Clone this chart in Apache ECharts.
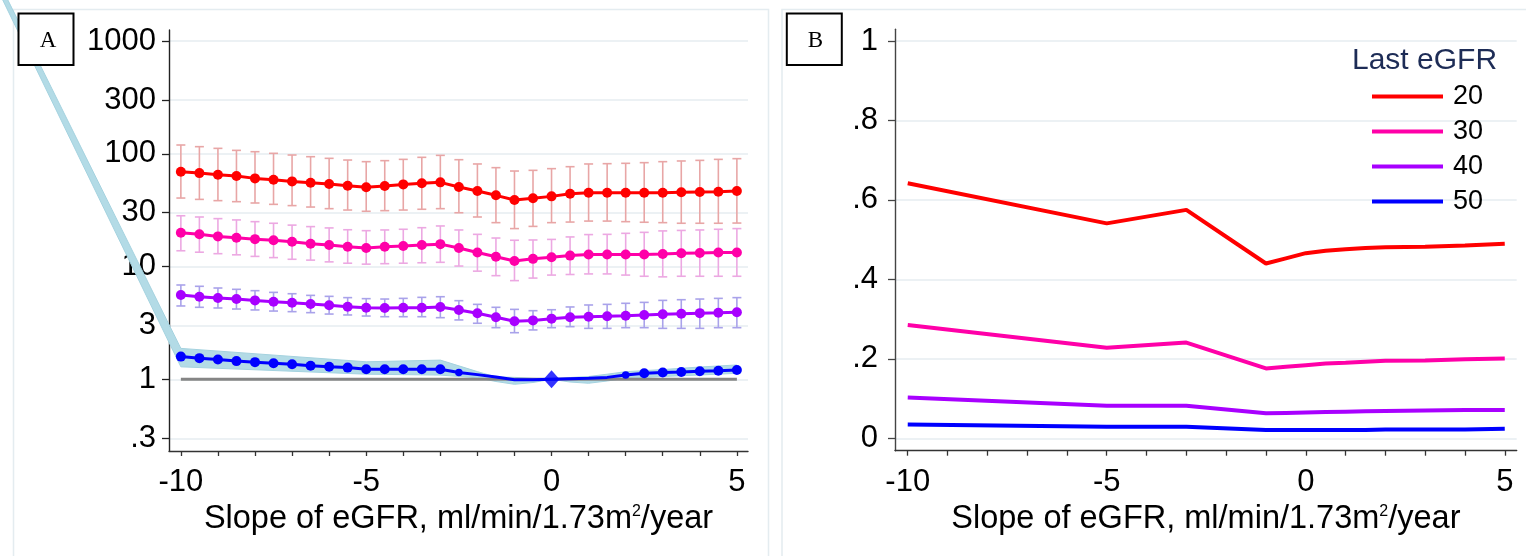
<!DOCTYPE html>
<html><head><meta charset="utf-8">
<script src="https://cdn.jsdelivr.net/npm/echarts@6/dist/echarts.min.js"></script>
<style>html,body{margin:0;padding:0;background:#fff}#c{width:1526px;height:556px}</style>
</head><body><div id="c"></div>
<script>
// ---------- Panel A data ----------
const slopesA = [-10,-9.5,-9,-8.5,-8,-7.5,-7,-6.5,-6,-5.5,-5,-4.5,-4,-3.5,-3,-2.5,-2,-1.5,-1,-0.5,0,0.5,1,1.5,2,2.5,3,3.5,4,4.5,5];
const rrA20 = [69.2,67.4,65.1,63.4,60.5,58.9,56.9,55.3,53.9,52.1,50.4,51.7,53.5,54.7,55.8,50.7,46.7,42.8,38.9,40.3,41.9,44.2,45.1,45.1,45.1,45.1,45.1,45.5,45.8,46.0,46.7];
const loA20 = [40.5,39.4,38.4,37.6,36.6,35.6,34.7,33.7,32.6,31.7,30.9,31.3,31.7,32.2,32.6,30.0,27.5,24.5,21.7,22.7,24.5,24.8,25.3,25.3,25.0,24.7,24.5,24.2,24.2,24.2,24.3];
const hiA20 = [119.6,115.6,111.7,107.2,104.3,100.9,97.5,94.2,91.1,88.0,85.1,86.9,89.2,93.0,96.8,88.6,81.2,75.3,70.3,71.3,73.8,76.8,81.2,81.7,82.3,83.4,85.1,86.3,87.4,89.2,90.5];
const rrA30 = [19.9,19.3,18.5,18.0,17.5,17.1,16.6,15.9,15.5,15.0,14.6,15.0,15.2,15.5,15.8,14.6,13.3,12.2,11.2,11.7,12.1,12.5,12.8,12.8,12.8,12.8,12.9,13.1,13.2,13.3,13.3];
const loA30 = [13.8,13.4,13.0,12.7,12.3,12.0,11.6,11.4,11.0,10.7,10.5,10.6,10.7,10.8,10.9,10.1,9.1,8.3,7.5,7.9,8.4,8.5,8.6,8.6,8.4,8.2,8.1,8.2,8.2,8.2,8.2];
const hiA30 = [28.2,27.5,26.6,25.9,25.0,24.2,23.3,22.6,22.0,21.2,20.8,21.1,21.4,22.1,22.9,21.1,19.3,17.9,17.1,17.2,17.4,18.3,19.2,19.3,19.7,20.1,20.7,20.9,21.1,21.4,21.7];
const rrA40 = [5.59,5.40,5.26,5.15,5.01,4.88,4.78,4.65,4.53,4.40,4.31,4.29,4.31,4.31,4.38,4.12,3.85,3.55,3.27,3.33,3.45,3.55,3.59,3.62,3.66,3.72,3.78,3.82,3.86,3.89,3.93];
const loA40 = [4.47,4.35,4.29,4.20,4.12,4.03,3.98,3.90,3.79,3.72,3.64,3.59,3.59,3.59,3.52,3.36,3.14,2.87,2.59,2.74,2.87,2.93,2.83,2.83,2.87,2.87,2.83,2.83,2.83,2.87,2.87];
const hiA40 = [6.86,6.68,6.45,6.28,6.11,5.90,5.74,5.55,5.44,5.30,5.19,5.15,5.22,5.33,5.40,4.98,4.62,4.35,4.17,4.06,4.14,4.38,4.56,4.62,4.72,4.81,5.01,5.08,5.15,5.22,5.30];
const rrA50 = [1.59,1.54,1.50,1.45,1.42,1.39,1.36,1.32,1.29,1.27,1.23,1.23,1.23,1.23,1.23,1.15,1.10,1.05,0.99,0.99,1.00,1.01,1.02,1.04,1.09,1.13,1.15,1.16,1.18,1.19,1.21];
// confidence band of the 50 curve (computed at spline points)
const bandX  = [-15,-10,-5,-3,-2,-1.5,-1,-0.5,0,0.5,1,1.5,2,3,4,5];
const bandLo = [3130,1.29,1.11,1.09,1.03,0.956,0.903,0.937,1.0,0.946,0.922,0.966,1.02,1.059,1.092,1.13];
const bandHi = [3840,1.88,1.43,1.48,1.17,1.05,1.04,1.02,1.0,1.037,1.058,1.11,1.168,1.22,1.285,1.34];
const refLineX = [-10,5];
const refLineY = [1,1];
const refPoint = [0,1];
const yTicksA = [0.3,1,3,10,30,100,300,1000];

// ---------- Panel B data ----------
const slopesB = [-10,-5,-3,-1,-0.5,0,0.5,1,1.5,2,3,4,5];
const probB20 = [0.642,0.541,0.575,0.440,0.453,0.466,0.472,0.476,0.479,0.481,0.482,0.485,0.490];
const probB30 = [0.285,0.228,0.241,0.176,0.180,0.184,0.188,0.190,0.193,0.195,0.196,0.199,0.201];
const probB40 = [0.103,0.082,0.082,0.063,0.064,0.065,0.066,0.067,0.068,0.069,0.070,0.071,0.071];
const probB50 = [0.035,0.029,0.029,0.021,0.021,0.021,0.021,0.021,0.021,0.022,0.022,0.022,0.024];
const yTicksB = [0,0.2,0.4,0.6,0.8,1];

const xTicks = [-10,-9,-8,-7,-6,-5,-4,-3,-2,-1,0,1,2,3,4,5];
const xLabels = [-10,-5,0,5];
const legendNames = ['20','30','40','50'];

// ---------- styling ----------
const FONT = 'Liberation Sans, Arial, Helvetica, sans-serif';
const C20 = '#ff0000', C30 = '#ff00a8', C40 = '#a800ff', C50 = '#0000ff';
const E20 = '#e8a6a6', E30 = '#eca8e2', E40 = '#a9a2ea';

function pairs(xs, ys) { return xs.map((x, i) => [x, ys[i]]); }
function triples(xs, lo, hi) { return xs.map((x, i) => [x, lo[i], hi[i]]); }
function fmtNum(v) { return String(v).replace(/^0\./, '.').replace(/^-0\./, '-.'); }

function errSeries(name, lo, hi, color) {
  return {
    type: 'custom', name: name, xAxisIndex: 0, yAxisIndex: 0, z: 2,
    data: triples(slopesA, lo, hi),
    encode: { x: 0, y: [1, 2] },
    silent: true,
    renderItem: function (params, api) {
      const x = api.value(0);
      const p1 = api.coord([x, api.value(1)]);
      const p2 = api.coord([x, api.value(2)]);
      const w = 4.5;
      const st = { stroke: color, lineWidth: 1.6 };
      return { type: 'group', children: [
        { type: 'line', shape: { x1: p1[0], y1: p1[1], x2: p2[0], y2: p2[1] }, style: st },
        { type: 'line', shape: { x1: p1[0] - w, y1: p1[1], x2: p1[0] + w, y2: p1[1] }, style: st },
        { type: 'line', shape: { x1: p2[0] - w, y1: p2[1], x2: p2[0] + w, y2: p2[1] }, style: st }
      ]};
    }
  };
}

function lineA(name, ys, color, sizeFn) {
  return {
    type: 'line', name: name, xAxisIndex: 0, yAxisIndex: 0, z: 4,
    data: pairs(slopesA, ys), symbol: 'circle', symbolSize: sizeFn || 10,
    showAllSymbol: true,
    lineStyle: { color: color, width: 3 }, itemStyle: { color: color },
    silent: true, animation: false
  };
}

function lineB(name, ys, color) {
  return {
    type: 'line', name: name, xAxisIndex: 1, yAxisIndex: 1, z: 4,
    data: pairs(slopesB, ys), symbol: 'none',
    lineStyle: { color: color, width: 4 }, itemStyle: { color: color },
    silent: true, animation: false
  };
}

const xName = '{a|Slope of eGFR, ml/min/1.73m}{s|2}{a|/year}';
const xNameStyle = { rich: {
  a: { fontSize: 32.5, fontFamily: FONT, color: '#000', lineHeight: 32 },
  s: { fontSize: 16, fontFamily: FONT, color: '#000', lineHeight: 6, verticalAlign: 'top' }
}};

function xAxisCfg(grid) {
  return {
    type: 'value', gridIndex: grid, min: -10.32, max: 5.3,
    axisLine: { show: true, onZero: false, lineStyle: { color: '#333', width: 1.4 } },
    axisTick: { show: true, length: 5, customValues: xTicks, lineStyle: { color: '#333', width: 1.3 } },
    axisLabel: { show: true, customValues: xLabels, fontSize: 31, fontFamily: FONT, color: '#000', margin: 16, formatter: fmtNum },
    splitLine: { show: false },
    name: xName, nameLocation: 'middle', nameGap: 49, nameTextStyle: xNameStyle
  };
}

const chart = echarts.init(document.getElementById('c'), null, { renderer: 'canvas' });
chart.setOption({
  animation: false,
  backgroundColor: '#ffffff',
  grid: [
    { left: 169, top: 30, width: 579, height: 421 },
    { left: 895, top: 29.3, width: 621.7, height: 421.4 }
  ],
  xAxis: [xAxisCfg(0), xAxisCfg(1)],
  yAxis: [
    {
      type: 'log', logBase: 10, gridIndex: 0, min: 0.2313, max: 1252,
      axisLine: { show: true, onZero: false, lineStyle: { color: '#222', width: 1.4 } },
      axisTick: { show: true, length: 7, customValues: yTicksA, lineStyle: { color: '#222', width: 1.3 } },
      axisLabel: { show: true, customValues: yTicksA, fontSize: 31, fontFamily: FONT, color: '#000', margin: 13, formatter: fmtNum },
      splitLine: { show: true, lineStyle: { color: '#e6edf1', width: 1.5 } }
    },
    {
      type: 'value', gridIndex: 1, min: -0.0312, max: 1.0295,
      axisLine: { show: true, onZero: false, lineStyle: { color: '#444', width: 1.4 } },
      axisTick: { show: true, length: 7, customValues: yTicksB, lineStyle: { color: '#444', width: 1.3 } },
      axisLabel: { show: true, customValues: yTicksB, fontSize: 31, fontFamily: FONT, color: '#000', margin: 17, formatter: fmtNum },
      splitLine: { show: true, lineStyle: { color: '#e6edf1', width: 1.5 } }
    }
  ],
  legend: {
    data: legendNames, orient: 'vertical', left: 1367, top: 78,
    itemWidth: 71, itemHeight: 4, itemGap: 8, icon: 'rect',
    textStyle: { fontSize: 27, fontFamily: FONT, color: '#000', padding: [0, 0, 0, 5] },
    selectedMode: false
  },
  title: {
    text: 'Last eGFR', left: 1352, top: 46, padding: 0,
    textStyle: { fontSize: 30, fontFamily: FONT, color: '#1d2c56', fontWeight: 'normal', lineHeight: 30 }
  },
  graphic: [
    { type: 'rect', z: -10, shape: { x: 13.5, y: 9.5, width: 755, height: 560 }, style: { fill: 'none', stroke: '#e4ecf0', lineWidth: 1.5 }, silent: true },
    { type: 'rect', z: -10, shape: { x: 782, y: 9.5, width: 760, height: 560 }, style: { fill: 'none', stroke: '#e4ecf0', lineWidth: 1.5 }, silent: true },
    { type: 'rect', z: 100, shape: { x: 18.5, y: 13.5, width: 55, height: 51.5 }, style: { fill: '#fff', stroke: '#000', lineWidth: 2 }, silent: true },
    { type: 'text', z: 101, x: 48, y: 41, style: { text: 'A', fontSize: 23, fontFamily: 'Liberation Serif, Times New Roman, serif', fill: '#000', align: 'center', verticalAlign: 'middle' }, silent: true },
    { type: 'rect', z: 100, shape: { x: 786.8, y: 13.5, width: 55, height: 51.5 }, style: { fill: '#fff', stroke: '#000', lineWidth: 2 }, silent: true },
    { type: 'text', z: 101, x: 815.5, y: 41, style: { text: 'B', fontSize: 23, fontFamily: 'Liberation Serif, Times New Roman, serif', fill: '#000', align: 'center', verticalAlign: 'middle' }, silent: true }
  ],
  series: [
    {
      type: 'custom', name: 'band50', xAxisIndex: 0, yAxisIndex: 0, z: 1, clip: false, silent: true,
      data: triples(bandX, bandLo, bandHi), encode: { x: 0, y: [1, 2] },
      renderItem: function (params, api) {
        if (params.dataIndex !== 0) return null;
        const pts = [];
        for (let i = 0; i < bandX.length; i++) pts.push(api.coord([bandX[i], bandHi[i]]));
        for (let i = bandX.length - 1; i >= 0; i--) pts.push(api.coord([bandX[i], bandLo[i]]));
        return { type: 'polygon', shape: { points: pts }, style: { fill: '#b3dbe6', stroke: '#a4d2df', lineWidth: 1 } };
      }
    },
    errSeries('ci20', loA20, hiA20, E20),
    errSeries('ci30', loA30, hiA30, E30),
    errSeries('ci40', loA40, hiA40, E40),
    {
      type: 'line', name: 'ref', xAxisIndex: 0, yAxisIndex: 0, z: 3, data: pairs(refLineX, refLineY),
      symbol: 'none', lineStyle: { color: '#858585', width: 3 }, silent: true
    },
    lineA('A20', rrA20, C20),
    lineA('A30', rrA30, C30),
    lineA('A40', rrA40, C40),
    lineA('A50', rrA50, C50, function (val) {
      const x = val[0];
      if (x > -2.5 && x < 2) return 0;
      if (x === -2.5 || x === 2) return 7.5;
      return 10;
    }),
    {
      type: 'scatter', name: 'refpt', xAxisIndex: 0, yAxisIndex: 0, z: 6, data: [refPoint],
      symbol: 'diamond', symbolSize: [16, 18], itemStyle: { color: C50 }, silent: true
    },
    lineB('20', probB20, C20),
    lineB('30', probB30, C30),
    lineB('40', probB40, C40),
    lineB('50', probB50, C50)
  ]
});
</script>
</body></html>
